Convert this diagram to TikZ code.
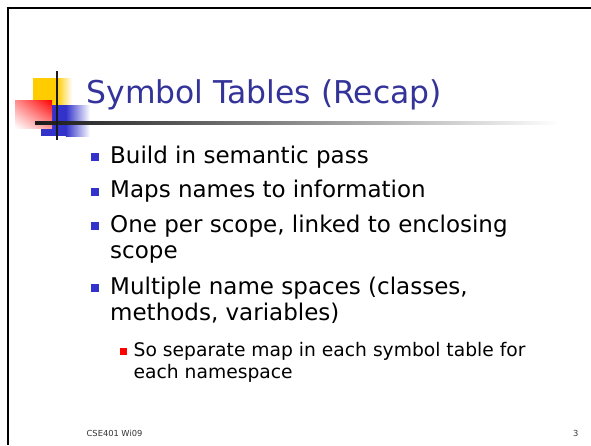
\documentclass[tikz,border=0pt]{standalone}
\usepackage{fontspec}
\setmainfont{DejaVu Sans}
\usetikzlibrary{shadings}
\definecolor{titleblue}{HTML}{333399}
\definecolor{bulletblue}{HTML}{3333CC}
\definecolor{logoyellow}{HTML}{FFCC00}
\definecolor{footgray}{HTML}{333333}
\tikzset{
  frameline/.style={line width=2.6pt, black},
  crossline/.style={line width=2.6pt, black!90},
  bodytext/.style={anchor=base west, inner sep=0pt, font=\fontsize{23}{27}\selectfont},
  subtext/.style={anchor=base west, inner sep=0pt, font=\fontsize{18.7}{22}\selectfont},
  mainbullet/.style={fill=bulletblue, minimum size=8pt, inner sep=0pt, anchor=center},
  subbullet/.style={fill=red, minimum size=6.5pt, inner sep=0pt, anchor=center},
  foot/.style={anchor=base west, inner sep=0pt, text=footgray, font=\fontsize{8.3}{9}\selectfont}
}
\begin{document}
\begin{tikzpicture}[x=1pt, y=-1pt]
  \useasboundingbox (0,0) rectangle (591,445);
  \fill[white] (0,0) rectangle (591,445);

  % slide frame: top and left edges
  \draw[frameline] (6.7,8) -- (591,8);
  \draw[frameline] (8,6.7) -- (8,445);

  % logo squares
  \fill[logoyellow] (33,78) rectangle (57,105);
  \shade[left color=logoyellow, right color=white] (56.8,78) rectangle (72,105);
  \fill[bulletblue] (41,105) rectangle (66,136);
  \shade[left color=bulletblue, right color=white] (65.8,105) rectangle (90,136);
  % red square: strongest at its top right corner
  \shade[upper right=red, upper left=red!45!white, lower right=red!40!white, lower left=white]
    (15,100) rectangle (52,128);
  % title rule, fading to the right
  \shade[left color=black!90, right color=white] (35,121.8) rectangle (560,124.4);
  % logo cross
  \draw[crossline] (57,71) -- (57,140);

  % title
  \node[anchor=base west, inner sep=0pt, text=titleblue,
        font=\fontsize{31.4}{36}\selectfont] (title) at (86.5,103) {Symbol Tables (Recap)};

  % first-level bullets
  \node[bodytext] (t1)  at (110,163)   {Build in semantic pass};
  \node[bodytext] (t2)  at (110,197.5) {Maps names to information};
  \node[bodytext] (t3a) at (110,232)   {One per scope, linked to enclosing};
  \node[bodytext] (t3b) at (110,258.5) {scope};
  \node[bodytext] (t4a) at (110,294)   {Multiple name spaces (classes,};
  \node[bodytext] (t4b) at (110,320.5) {methods, variables)};
  \node[mainbullet] (s1) at (95,157) {};
  \node[mainbullet] (s2) at (95,191.5) {};
  \node[mainbullet] (s3) at (95,226) {};
  \node[mainbullet] (s4) at (95,288) {};

  % second-level bullet
  \node[subtext] (t5a) at (133.5,356) {So separate map in each symbol table for};
  \node[subtext] (t5b) at (133.5,378) {each namespace};
  \node[subbullet] (s5) at (123.5,351.5) {};

  % footer
  \node[foot] (course) at (86.5,436) {CSE401 Wi09};
  \node[foot] (page) at (573,436) {3};
\end{tikzpicture}
\end{document}
